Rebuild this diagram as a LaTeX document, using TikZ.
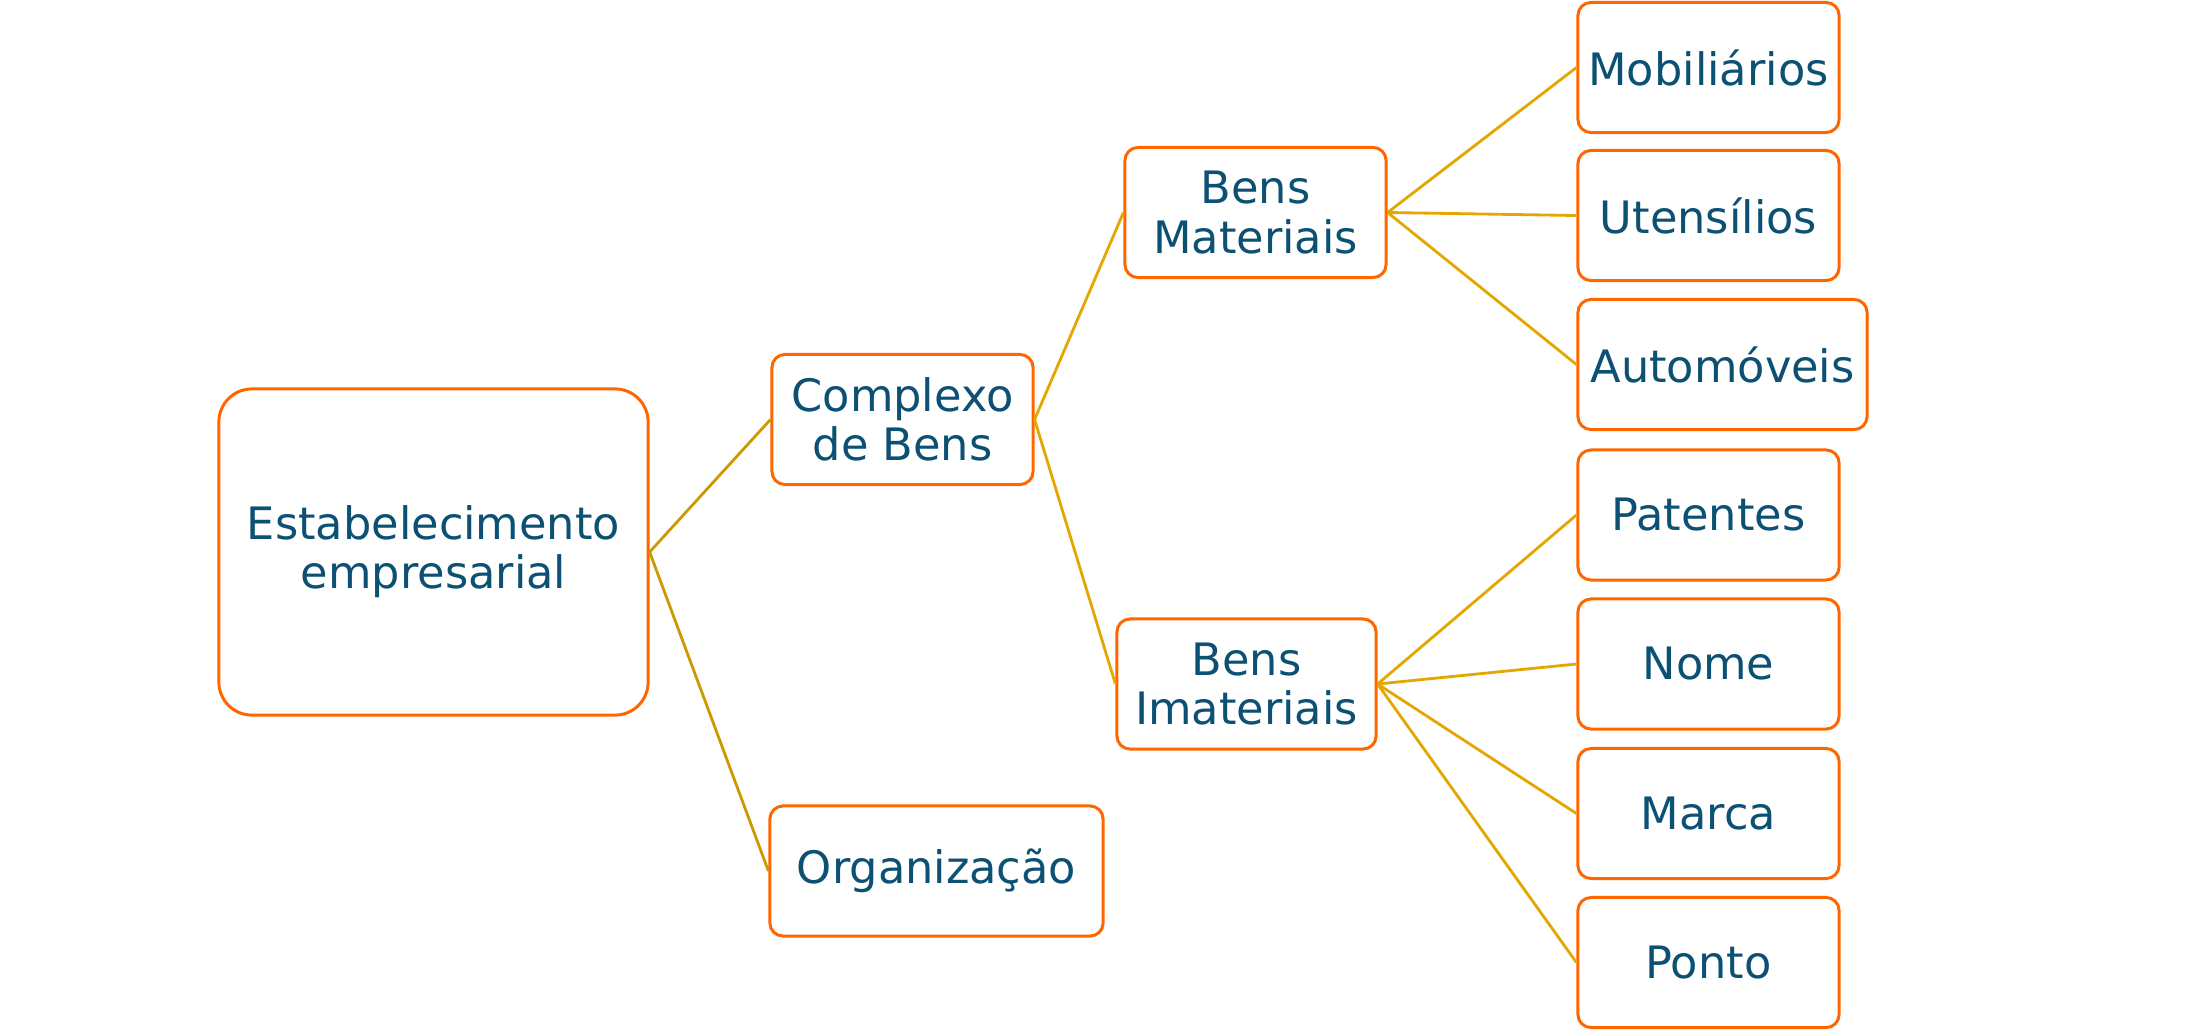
\documentclass[tikz,border=0pt]{standalone}
\usepackage{fontspec}
\setmainfont{DejaVu Sans}
\definecolor{boxorange}{RGB}{255,102,0}
\definecolor{txtblue}{RGB}{12,80,115}
\definecolor{linkdark}{RGB}{204,153,0}
\definecolor{linkgold}{RGB}{228,166,0}
\tikzset{
  box/.style={draw=boxorange, line width=0.85pt, fill=white, rounded corners=0.13cm,
    text=txtblue, align=center, inner sep=0pt, minimum width=2.61cm, minimum height=1.3cm,
    font=\fontsize{12.7}{14}\selectfont},
  link/.style={linkgold, line width=0.8pt},
}
\begin{document}
\begin{tikzpicture}[x=0.01cm, y=-0.01cm]
  \useasboundingbox (0,0) rectangle (2186,1030);

  % Root
  \node[box, rounded corners=0.33cm, minimum width=4.29cm, minimum height=3.26cm] (estab) at (433.5,552) {Estabelecimento\\empresarial};

  % Second level
  \node[box] (complexo) at (902.5,419.5) {Complexo\\de Bens};
  \node[box, minimum width=3.33cm] (organiz) at (936.5,871) {Organização};

  % Third level
  \node[box, minimum width=2.61cm] (mat) at (1255.5,212.5) {Bens\\Materiais};
  \node[box, minimum width=2.59cm] (imat) at (1246.5,684) {Bens\\Imateriais};

  % Leaves: bens materiais
  \node[box] (mobil) at (1708.5,67.5) {Mobiliários};
  \node[box] (utens) at (1708.5,215.5) {Utensílios};
  \node[box, minimum width=2.89cm] (auto) at (1722.5,364.5) {Automóveis};

  % Leaves: bens imateriais
  \node[box] (pat) at (1708.5,515) {Patentes};
  \node[box] (nome) at (1708.5,664) {Nome};
  \node[box] (marca) at (1708.5,813.5) {Marca};
  \node[box] (ponto) at (1708.5,962.5) {Ponto};

  % Connectors
  \draw[link, linkdark] (estab.east) -- (complexo.west);
  \draw[link, linkdark] (estab.east) -- (organiz.west);
  \draw[link] (complexo.east) -- (mat.west);
  \draw[link] (complexo.east) -- (imat.west);
  \foreach \leaf in {mobil, utens, auto}
    \draw[link] (mat.east) -- (\leaf.west);
  \foreach \leaf in {pat, nome, marca, ponto}
    \draw[link] (imat.east) -- (\leaf.west);
\end{tikzpicture}
\end{document}
